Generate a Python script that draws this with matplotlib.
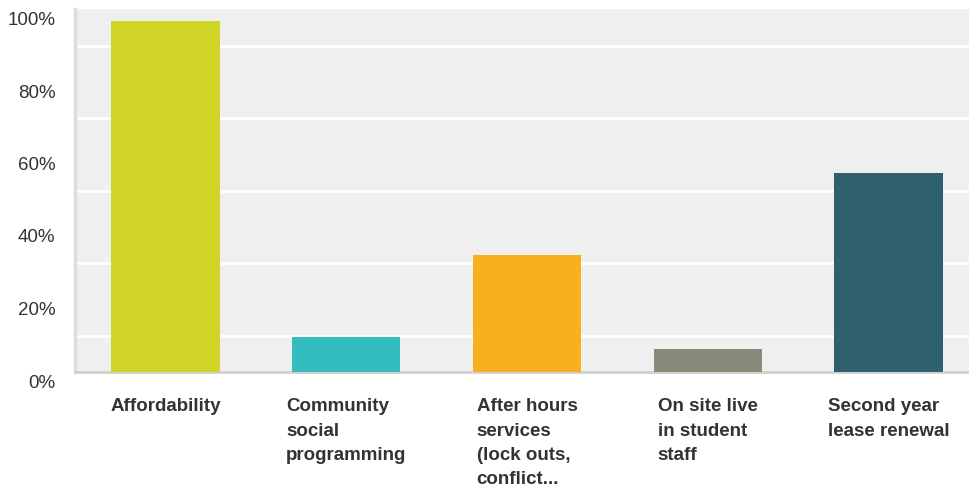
import matplotlib
matplotlib.use("Agg")
import matplotlib.pyplot as plt
import matplotlib.transforms as mtransforms

categories = [
    "Affordability",
    "Community\nsocial\nprogramming",
    "After hours\nservices\n(lock outs,\nconflict...",
    "On site live\nin student\nstaff",
    "Second year\nlease renewal",
]
values = [96.77, 9.68, 32.26, 6.45, 54.84]
colors = ["#D0D427", "#33BDBF", "#F7B01F", "#8A8A7A", "#2E606E"]
ytick_values = [0, 20, 40, 60, 80, 100]
ytick_labels = ["0%", "20%", "40%", "60%", "80%", "100%"]

plt.rcParams["font.family"] = ["Liberation Sans", "DejaVu Sans"]

fig = plt.figure(figsize=(9.69, 4.94), dpi=100)
ax = fig.add_axes([75 / 969, 122 / 494, 1 - 75 / 969, 362.5 / 494])
ax.set_facecolor("#EFEFEF")

x = list(range(len(categories)))
ax.bar(x, values, width=0.6, color=colors, zorder=3)

ax.set_xlim(-0.5, 4.445)
ax.set_ylim(0, 100)

# white gridlines every 10%
ax.set_yticks(range(0, 101, 10), minor=True)
ax.yaxis.grid(True, which="minor", color="white", linewidth=2, zorder=1)
ax.set_axisbelow(True)

ax.set_yticks(ytick_values)
ax.set_yticklabels(ytick_labels, fontsize=13.5, color="#333333")
ax.tick_params(axis="y", which="both", length=0, pad=14)
offset = mtransforms.ScaledTranslation(0, -9 / 100, fig.dpi_scale_trans)
for lbl in ax.get_yticklabels():
    lbl.set_transform(lbl.get_transform() + offset)

ax.set_xticks(x)
ax.set_xticklabels(categories, fontsize=13.5, fontweight="bold", color="#333333",
                   ha="center", va="top", linespacing=1.55)
for lbl in ax.get_xticklabels():
    lbl.set_multialignment("left")
ax.tick_params(axis="x", length=0, pad=19)

for side in ["top", "right"]:
    ax.spines[side].set_visible(False)
ax.spines["left"].set_color("#DDDDDD")
ax.spines["left"].set_linewidth(2.5)
ax.spines["bottom"].set_color("#D0D0D0")
ax.spines["bottom"].set_linewidth(2)

fig.savefig("out.png", dpi=100, facecolor="white")
